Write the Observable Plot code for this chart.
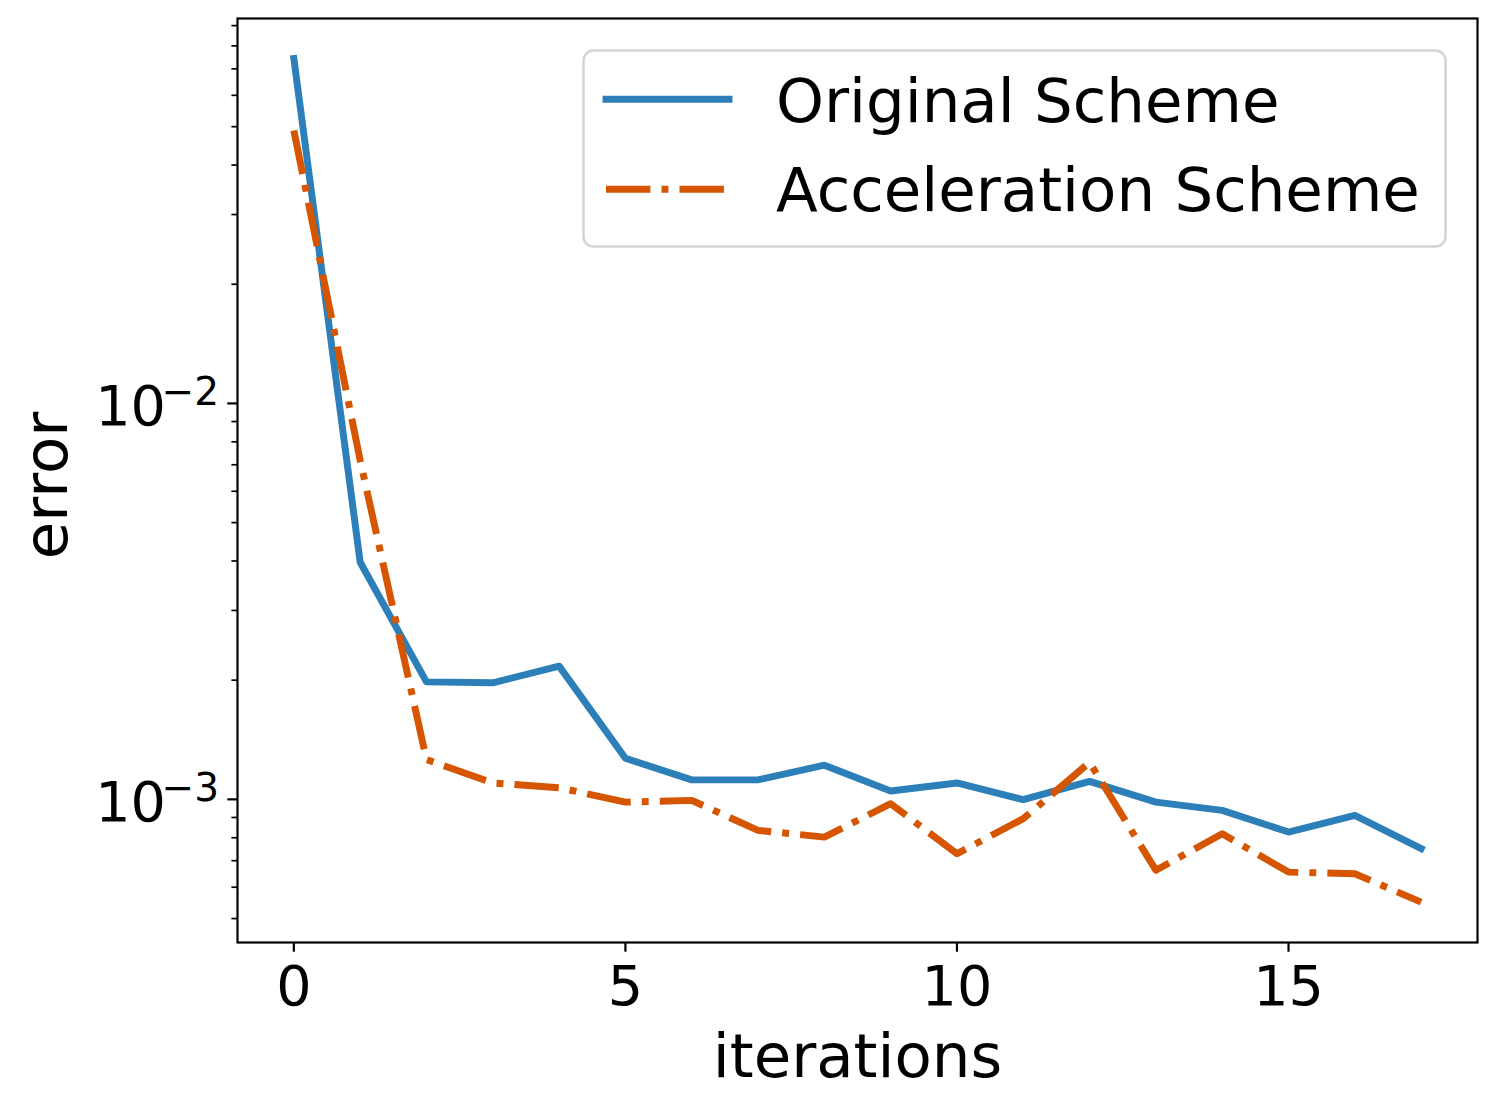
<!DOCTYPE html>
<html>
<head>
<meta charset="utf-8">
<script src="https://cdn.jsdelivr.net/npm/d3@7"></script>
<script src="https://cdn.jsdelivr.net/npm/@observablehq/plot@0.6"></script>
<style>
  html, body { margin: 0; padding: 0; background: #ffffff; }
  #chart { width: 1496px; height: 1107px; }
</style>
</head>
<body>
<div id="chart"></div>
<script>
// ---- data ----
const iterations = [0, 1, 2, 3, 4, 5, 6, 7, 8, 9, 10, 11, 12, 13, 14, 15, 16, 17];
const originalError = [0.0743, 0.00397, 0.00198, 0.00197, 0.00217, 0.00127, 0.00112, 0.00112, 0.00122, 0.00105, 0.00110, 0.000998, 0.00111, 0.000984, 0.000938, 0.000827, 0.000911, 0.000751];
const accelerationError = [0.0489, 0.00718, 0.00126, 0.00110, 0.00107, 0.000984, 0.000994, 0.000835, 0.000803, 0.000975, 0.000729, 0.000894, 0.00124, 0.000662, 0.000819, 0.000655, 0.000649, 0.000550];
const seriesNames = ["Original Scheme", "Acceleration Scheme"];
const seriesColors = ["#2c7fb8", "#d55500"];
const xTicks = [0, 5, 10, 15];
const yMajorTicks = [0.001, 0.01];
const yTickExponents = ["\u22123", "\u22122"];
const yMinorTicks = [0.0005, 0.0006, 0.0007, 0.0008, 0.0009,
                     0.002, 0.003, 0.004, 0.005, 0.006, 0.007, 0.008, 0.009,
                     0.02, 0.03, 0.04, 0.05, 0.06, 0.07, 0.08, 0.09];
const xLabel = "iterations";
const yLabel = "error";

// ---- tables ----
const originalRows = iterations.map((it, i) => ({iteration: it, error: originalError[i]}));
const accelerationRows = iterations.map((it, i) => ({iteration: it, error: accelerationError[i]}));

const FONT = "DejaVu Sans";
const LW = 6.94;
const DASHDOT = "44.4,11.1,6.9,11.1";

const chart = Plot.plot({
  width: 1496,
  height: 1107,
  marginLeft: 237,
  marginRight: 19,
  marginTop: 18,
  marginBottom: 165,
  style: {fontFamily: FONT, background: "#ffffff", color: "#000000", overflow: "visible"},
  x: {domain: [-0.85, 17.85], label: null},
  y: {type: "log", domain: [0.000435, 0.0938], label: null},
  marks: [
    Plot.axisX({ticks: xTicks, tickSize: 9.7, tickPadding: 13, fontSize: 55.6, strokeWidth: 2.2, label: null, tickFormat: d => String(d)}),
    Plot.axisY({ticks: yMajorTicks, tickSize: 9.7, strokeWidth: 2.2, tickFormat: () => "", label: null}),
    Plot.axisY({ticks: yMinorTicks, tickSize: 5.6, strokeWidth: 1.7, tickFormat: () => "", label: null}),
    Plot.text(yMajorTicks, {y: d => d, text: () => "10", frameAnchor: "left", textAnchor: "end", dx: -71.5, dy: 4, fontSize: 55.6}),
    Plot.text(yMajorTicks, {y: d => d, text: (d, i) => yTickExponents[i], frameAnchor: "left", textAnchor: "end", dx: -18.5, dy: -11, fontSize: 39}),
    Plot.text([xLabel], {text: d => d, frameAnchor: "bottom", lineAnchor: "bottom", dy: 134, fontSize: 61}),
    Plot.text([yLabel], {text: d => d, frameAnchor: "left", textAnchor: "middle", lineAnchor: "bottom", rotate: -90, dx: -171, dy: 5, fontSize: 61}),
    Plot.line(originalRows, {x: "iteration", y: "error", stroke: seriesColors[0], strokeWidth: LW, strokeLinecap: "square", strokeLinejoin: "round"}),
    Plot.line(accelerationRows, {x: "iteration", y: "error", stroke: seriesColors[1], strokeWidth: LW, strokeDasharray: DASHDOT, strokeLinecap: "butt", strokeLinejoin: "round"}),
    Plot.frame({stroke: "#000000", strokeWidth: 2.2})
  ]
});

// ---- legend (inside the axes, upper right) ----
const svg = d3.select(chart);
const lg = svg.append("g").attr("class", "legend");
lg.append("rect")
  .attr("x", 583.5).attr("y", 50.5).attr("width", 862).attr("height", 196)
  .attr("rx", 10).attr("ry", 10)
  .attr("fill", "#ffffff").attr("fill-opacity", 0.8)
  .attr("stroke", "#d4d4d4").attr("stroke-width", 2.5);
const rowY = [99.3, 189.3];
const textY = [122.3, 211];
seriesNames.forEach((name, i) => {
  lg.append("line")
    .attr("x1", 606).attr("x2", 729).attr("y1", rowY[i]).attr("y2", rowY[i])
    .attr("stroke", seriesColors[i]).attr("stroke-width", LW)
    .attr("stroke-linecap", i === 0 ? "square" : "butt")
    .attr("stroke-dasharray", i === 0 ? null : DASHDOT);
  lg.append("text")
    .attr("x", 776).attr("y", textY[i])
    .attr("text-anchor", "start")
    .attr("font-family", FONT).attr("font-size", 61).attr("fill", "#000000")
    .text(name);
});

document.getElementById("chart").appendChild(chart);
</script>
</body>
</html>
